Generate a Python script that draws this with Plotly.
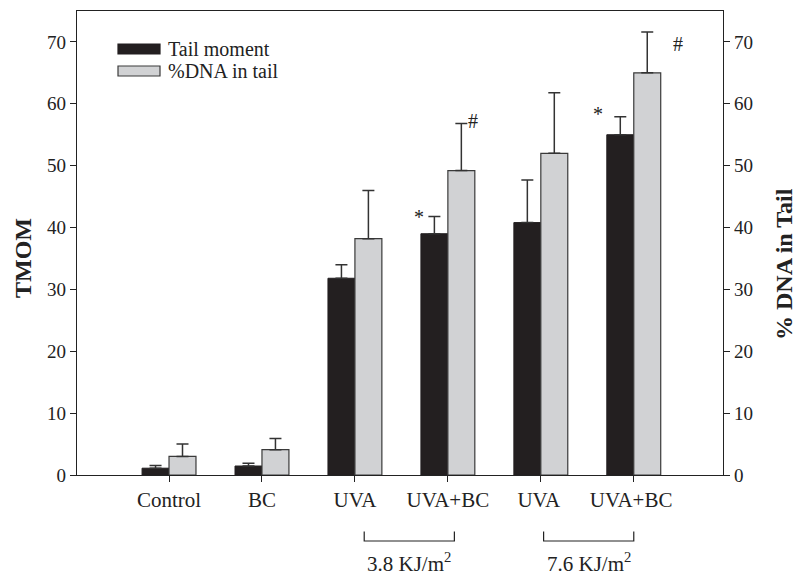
import plotly.graph_objects as go

categories = ["Control", "BC", "UVA", "UVA+BC", "UVA ", "UVA+BC "]
tail_moment = [1.1, 1.45, 31.8, 39.0, 40.8, 55.0]
tail_moment_err = [0.45, 0.45, 2.2, 2.8, 6.9, 2.9]
dna_in_tail = [3.0, 4.1, 38.2, 49.2, 52.0, 65.0]
dna_in_tail_err = [2.0, 1.8, 7.8, 7.6, 9.8, 6.6]
y_ticks = [0, 10, 20, 30, 40, 50, 60, 70]
dose_labels = ["3.8 KJ/m<sup>2</sup>", "7.6 KJ/m<sup>2</sup>"]

FONT = "Liberation Serif, Times New Roman, serif"
DARK = "#231f20"
GRAY = "#d1d2d4"
EDGE = "#3a3a3a"
x_idx = list(range(len(categories)))

fig = go.Figure()
fig.add_trace(go.Bar(
    x=x_idx, y=tail_moment, name="Tail moment", offsetgroup="a",
    marker=dict(color=DARK, line=dict(color=DARK, width=1)),
    error_y=dict(type="data", array=tail_moment_err, arrayminus=[0]*6, symmetric=False,
                 color="#333333", thickness=1.5, width=6),
    yaxis="y", showlegend=False))
fig.add_trace(go.Bar(
    x=x_idx, y=dna_in_tail, name="%DNA in tail", offsetgroup="b",
    marker=dict(color=GRAY, line=dict(color=EDGE, width=1.2)),
    error_y=dict(type="data", array=dna_in_tail_err, arrayminus=[0]*6, symmetric=False,
                 color="#333333", thickness=1.5, width=6),
    yaxis="y2", showlegend=False))

axis_common = dict(range=[0, 75], tickvals=y_ticks, ticks="outside", ticklen=6,
                   tickcolor="#222", tickwidth=1.2, showgrid=False, zeroline=False,
                   showline=True, linecolor="#222", linewidth=1.2, automargin=False,
                   tickfont=dict(family=FONT, size=19, color="#222"))

fig.update_layout(
    width=799, height=575,
    margin=dict(l=77, r=76, t=11, b=100),
    paper_bgcolor="white", plot_bgcolor="white",
    barmode="group", bargap=0.42, bargroupgap=0,
    font=dict(family=FONT, color="#222"),
    showlegend=False,
    xaxis=dict(range=[-0.99, 5.96], tickvals=x_idx, ticktext=categories,
               ticks="outside", ticklen=6, tickcolor="#222", tickwidth=1.2,
               showline=True, linecolor="#222", linewidth=1.2, mirror=True,
               showgrid=False, zeroline=False, automargin=False,
               tickfont=dict(family=FONT, size=21, color="#222")),
    yaxis=dict(**axis_common),
    yaxis2=dict(**axis_common, overlaying="y", side="right"),
)

# axis titles (placed as in the reference)
fig.add_annotation(xref="paper", yref="paper", x=(23 - 77) / 646, y=1 - (258 - 11) / 464,
                   text="<b>TMOM</b>", textangle=-90, showarrow=False,
                   xanchor="center", yanchor="middle",
                   font=dict(family=FONT, size=24, color="#222"))
fig.add_annotation(xref="paper", yref="paper", x=(784 - 77) / 646, y=1 - (264 - 11) / 464,
                   text="<b>% DNA in Tail</b>", textangle=-90, showarrow=False,
                   xanchor="center", yanchor="middle",
                   font=dict(family=FONT, size=24, color="#222"))

# significance markers
marks = [("*", 2.69, 39.6), ("#", 3.27, 55.2), ("*", 4.62, 56.2), ("#", 5.48, 67.5)]
for txt, xv, yv in marks:
    fig.add_annotation(x=xv, y=yv, text=txt, showarrow=False, xref="x", yref="y",
                       yanchor="bottom", font=dict(family=FONT, size=20, color="#222"))

# manual legend
legend_items = [("Tail moment", DARK, DARK), ("%DNA in tail", GRAY, EDGE)]
for i, (lbl, fc, lc) in enumerate(legend_items):
    yc = 49 + i * 22
    fig.add_shape(type="rect", xref="paper", yref="paper",
                  x0=(118 - 77) / 646, x1=(160 - 77) / 646,
                  y0=1 - (yc + 5 - 11) / 464, y1=1 - (yc - 5 - 11) / 464,
                  fillcolor=fc, line=dict(color=lc, width=1.2))
    fig.add_annotation(xref="paper", yref="paper", x=(166 - 77) / 646, y=1 - (yc - 11) / 464,
                       text=lbl, showarrow=False, xanchor="left", yanchor="middle",
                       font=dict(family=FONT, size=20, color="#222"))

# dose brackets
brackets = [(2.1, 3.07), (4.03, 5.0)]
for (a, b), lbl in zip(brackets, dose_labels):
    y_top = -(531.5 - 475) / 464
    y_bot = -(541 - 475) / 464
    fig.add_shape(type="path", xref="x", yref="paper",
                  path=f"M {a} {y_top} L {a} {y_bot} L {b} {y_bot} L {b} {y_top}",
                  line=dict(color="#222", width=1.2))
    fig.add_annotation(xref="x", yref="paper", x=(a + b) / 2, y=-(562 - 475) / 464,
                       text=lbl, showarrow=False, yanchor="middle",
                       font=dict(family=FONT, size=21, color="#222"))

fig.write_html("out.html", config={"displayModeBar": False},
               post_script="document.body.style.margin='0';document.body.style.overflow='hidden';")
